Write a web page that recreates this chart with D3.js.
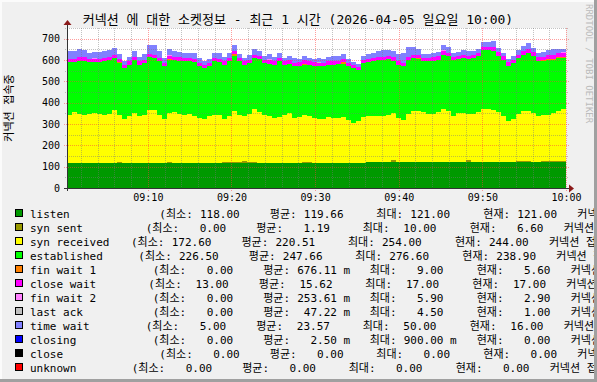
<!DOCTYPE html>
<html><head><meta charset="utf-8">
<script src="https://cdn.jsdelivr.net/npm/d3@7"></script>
<style>
html,body{margin:0;padding:0;background:#F0F0F0;}
svg{display:block;}
text{font-family:"DejaVu Sans Mono","Noto Sans CJK KR",monospace;fill:#000;}
</style></head><body><svg id="chart" width="597" height="382"></svg>
<script>
// ---------- DATA ----------
const title = "커넥션 에 대한 소켓정보 - 최근 1 시간 (2026-04-05 일요일 10:00)";
const yAxisTitle = "커넥션 접속중";
const watermark = "RRDTOOL / TOBI OETIKER";
const timeStart = new Date(2026, 3, 5, 9, 0, 20);
const timeEnd = new Date(2026, 3, 5, 10, 0, 0);
const yTicks = [0, 100, 200, 300, 400, 500, 600, 700];

const seriesNames = ["listen","syn sent","syn received","established","fin wait 1","close wait",
  "fin wait 2","last ack","time wait","closing","close","unknown"];

const listen = [
119,119,119,119,119,119,119,119,119,119, 119,119,119,119,119,119,119,119,119,119,
118,118,118,118,118,119,119,119,119,119, 119,119,119,119,119,119,119,119,119,119,
119,119,119,119,119,119,119,119,119,119, 119,119,119,119,119,119,119,119,119,119,
121,121,121,121,121,121,121,121,121,121, 121,121,121,121,121,121,121,121,121,121,
121,121,121,121,121,121,121,121,121,121, 121,121,121,121,121,121,121,121,121,121];
const synSent = [
0,0,0,0,0,0,0,0,0,0, 5,0,0,0,0,0,0,0,0,0,
5,0,0,0,0,0,0,0,0,0, 0,3,5,2,4,6,3,2,0,0,
0,0,0,0,0,0,0,5,3,0, 0,0,0,0,0,0,0,0,0,0,
2,0,0,0,0,8,0,0,0,0, 0,0,0,0,0,3,0,0,0,0,
10,0,0,0,0,0,0,0,0,0, 6,5,4,3,0,6,6.6,6.6,6.6,6.6];
const synReceived = [
225,235,229,225,229,232,229,223,229,245, 220,204,217,232,217,225,248,245,225,204,
228,236,230,226,230,220,209,204,217,225, 225,201,215,241,221,211,226,249,235,223,
217,209,214,225,232,209,214,220,217,209, 204,204,214,209,209,214,201,186,194,214,
213,215,218,218,223,222,207,196,227,238, 238,233,227,227,233,246,238,218,230,230,
217,227,233,249,249,246,233,218,192,202, 221,233,234,227,218,217,216.4,223.4,231.4,244];
const established = [
246,236,249,253,241,238,242,252,253,245, 242,239,242,250,242,242,247,245,250,247,
248,247,249,250,246,250,245,239,234,250, 246,255,255,255,250,242,238,239,251,244,
247,250,261,234,232,242,240,234,239,245, 247,247,245,250,253,250,253,257,241,253,
253,258,260,262,261,246,250,253,251,250, 246,240,246,249,247,255,258,260,254,258,
257,261,263,275,276.6,273,266,262,260,263, 261,266,274,269,258,250,257,250,250,238.9];
const finWait1 = [
0,0,0,0,0,0,0,0,0,0, 3,0,0,0,0,0,0,0,0,0,
4,0,0,0,0,0,0,0,0,0, 0,0,0,9,0,0,0,0,0,0,
0,0,0,0,0,0,0,5,0,0, 0,0,0,0,0,6,0,0,0,0,
0,0,0,0,0,0,0,0,0,0, 5,0,0,0,0,0,0,0,0,0,
0,0,0,0,0,4,0,0,0,0, 0,0,0,0,0,6,6,5.6,5.6,5.6];
const closeWait = [
15,16,16,15,15,16,16,15,14,15, 16,16,15,15,16,16,15,15,16,16,
16,15,15,16,16,15,14,13,14,15, 16,16,15,16,16,15,15,16,16,15,
15,16,16,15,15,16,16,15,15,16, 16,16,15,15,16,16,15,14,14,15,
16,16,15,15,16,16,16,15,16,16, 15,15,16,16,16,16,16,15,16,16,
16,16,16,16,16,17,17,16,16,16, 16,17,17,17,16,16,17,17,17,17];
const finWait2 = [
0,0,0,0,0,4,0,0,0,0, 0,0,0,0,0,0,0,0,0,0,
3,0,0,0,0,0,0,0,0,0, 0,0,0,0,0,0,0,0,0,0,
5.9,0,0,0,0,0,0,0,0,0, 0,0,0,0,0,0,0,0,0,0,
2,0,0,0,0,0,0,0,0,0, 0,0,0,0,0,4,0,0,0,0,
0,0,0,0,0,0,0,0,3,0, 0,0,0,0,0,0,0,0,0,2.9];
const lastAck = [
0,0,0,0,0,0,0,0,0,0, 0,0,0,0,0,0,0,0,0,0,
0,0,0,0,0,0,0,0,0,0, 0,0,0,0,0,0,0,0,0,0,
0,0,0,0,0,0,0,0,0,0, 4.5,0,0,0,0,0,0,0,0,0,
0,0,0,0,0,0,0,0,0,0, 0,0,0,0,0,0,0,0,0,0,
0,0,0,0,0,0,0,0,0,0, 0,0,0,0,0,0,0,0,0,1];
const timeWait = [
35,38,40,36,30,28,30,32,30,33, 25,18,20,25,22,28,40,45,30,25,
30,28,25,22,25,28,22,18,20,25, 28,22,25,30,20,18,22,25,20,18,
22,20,25,18,20,22,18,20,15,18, 20,18,22,25,20,22,18,15,12,20,
22,25,28,30,28,30,35,48,45,38, 25,20,18,20,22,25,30,20,18,20,
22,18,20,25,22,28,20,15,12,18, 22,25,28,20,18,22,25,28,22,16];
const closing = [
0,0,0,0,0,0,0,0,0,0, 0,0,0,0,0,0,0,0,0,0,
0,0,0,0,0,0,0,0,0,0, 0.9,0,0,0,0,0,0,0,0,0,
0,0,0,0,0,0,0,0,0,0, 0,0,0,0,0,0,0,0,0,0,
0,0,0,0,0,0,0,0,0,0, 0,0,0,0,0,0,0,0,0,0,
0,0,0,0,0,0,0,0,0,0, 0,0,0,0,0,0,0,0,0,0];
const close = [
0,0,0,0,0,0,0,0,0,0, 0,0,0,0,0,0,0,0,0,0,
0,0,0,0,0,0,0,0,0,0, 0,0,0,0,0,0,0,0,0,0,
0,0,0,0,0,0,0,0,0,0, 0,0,0,0,0,0,0,0,0,0,
0,0,0,0,0,0,0,0,0,0, 0,0,0,0,0,0,0,0,0,0,
0,0,0,0,0,0,0,0,0,0, 0,0,0,0,0,0,0,0,0,0];
const unknown = [
0,0,0,0,0,0,0,0,0,0, 0,0,0,0,0,0,0,0,0,0,
0,0,0,0,0,0,0,0,0,0, 0,0,0,0,0,0,0,0,0,0,
0,0,0,0,0,0,0,0,0,0, 0,0,0,0,0,0,0,0,0,0,
0,0,0,0,0,0,0,0,0,0, 0,0,0,0,0,0,0,0,0,0,
0,0,0,0,0,0,0,0,0,0, 0,0,0,0,0,0,0,0,0,0];

const legendMin = [118.00, 0, 172.60, 226.50, 0, 13.00, 0, 0, 5.00, 0, 0, 0];
const legendAvg = [119.66, 1.19, 220.51, 247.66, 0.67611, 15.62, 0.25361, 0.04722, 23.57, 0.0025, 0, 0];
const legendMax = [121.00, 10.00, 254.00, 276.60, 9.00, 17.00, 5.90, 4.50, 50.00, 0.9, 0, 0];
const legendCur = [121.00, 6.60, 244.00, 238.90, 5.60, 17.00, 2.90, 1.00, 16.00, 0, 0, 0];
const legendWords = ["(최소:", "평균:", "최대:", "현재:"];
const legendComment = "커넥션 접속 수";

// ---------- STYLE / LAYOUT ----------
const colors = ["#009900","#999900","#FFFF00","#00FF00","#FF8000","#FF00FF",
  "#FF80FF","#C0C0C0","#8080FF","#0000FF","#000000","#FF0000"];
const legendStart = [159.3,145.7,131,138.3,152.7,148.3,152.7,152.7,145.7,152.7,159.3,131.7];
const legendItemOffsets = [0, 110.5, 217, 324];
const legendCommentOffset = 418;

const W = 597, H = 382;
const plot = {left: 67, right: 566, top: 28, bottom: 188};

const seriesData = [listen, synSent, synReceived, established, finWait1, closeWait,
  finWait2, lastAck, timeWait, closing, close, unknown];
const N = listen.length;

const svg = d3.select("#chart");

// background
svg.append("rect").attr("width", W).attr("height", H).attr("fill", "#F0F0F0");
svg.append("rect").attr("x", plot.left).attr("y", plot.top)
  .attr("width", plot.right - plot.left).attr("height", plot.bottom - plot.top).attr("fill", "#FFFFFF");

// scales
const xIdx = d3.scaleLinear().domain([0, N]).range([plot.left, plot.right]);
const xTime = d3.scaleTime().domain([timeStart, timeEnd]).range([plot.left, plot.right]);
const y = d3.scaleLinear().domain([0, 750]).range([plot.bottom, plot.top]);

// stacked data
const rows = d3.range(N + 1).map(i => {
  const j = Math.min(i, N - 1);
  const o = {};
  seriesNames.forEach((k, s) => o[k] = seriesData[s][j]);
  return o;
});
const stacked = d3.stack().keys(seriesNames)(rows);
const area = d3.area()
  .x((d, i) => xIdx(i))
  .y0(d => y(d[0]))
  .y1(d => y(d[1]))
  .curve(d3.curveStepAfter);
svg.append("g").selectAll("path").data(stacked).join("path")
  .attr("d", area)
  .attr("fill", (d, i) => colors[i])
  .attr("shape-rendering", "crispEdges");

// grid
const grid = svg.append("g").attr("shape-rendering", "crispEdges");
const minorY = d3.range(50, 751, 100);
const majorY = d3.range(100, 701, 100);
grid.selectAll(".hmin").data(minorY).join("line")
  .attr("x1", plot.left - 2).attr("x2", plot.right + 2)
  .attr("y1", d => Math.round(y(d)) + 0.5).attr("y2", d => Math.round(y(d)) + 0.5)
  .attr("stroke", "rgba(120,120,120,0.45)").attr("stroke-dasharray", "1,1");
grid.selectAll(".hmaj").data(majorY).join("line")
  .attr("x1", plot.left - 3).attr("x2", plot.right + 3)
  .attr("y1", d => Math.round(y(d)) + 0.5).attr("y2", d => Math.round(y(d)) + 0.5)
  .attr("stroke", "rgba(255,60,60,0.5)").attr("stroke-dasharray", "1,1");
const minorX = d3.timeMinute.every(2).range(timeStart, new Date(+timeEnd + 1))
  .filter(t => t.getMinutes() % 10 !== 0);
const majorX = d3.timeMinute.every(10).range(timeStart, new Date(+timeEnd + 1));
grid.selectAll(".vmin").data(minorX).join("line")
  .attr("x1", d => Math.round(xTime(d)) + 0.5).attr("x2", d => Math.round(xTime(d)) + 0.5)
  .attr("y1", plot.top).attr("y2", plot.bottom + 2)
  .attr("stroke", "rgba(120,120,120,0.45)").attr("stroke-dasharray", "1,1");
grid.selectAll(".vmaj").data(majorX).join("line")
  .attr("x1", d => Math.round(xTime(d)) + 0.5).attr("x2", d => Math.round(xTime(d)) + 0.5)
  .attr("y1", plot.top).attr("y2", plot.bottom + 3)
  .attr("stroke", "rgba(255,60,60,0.5)").attr("stroke-dasharray", "1,1");

// axes
const xAxis = d3.axisBottom(xTime).tickValues(majorX).tickFormat(d3.timeFormat("%H:%M"))
  .tickSize(0).tickPadding(6);
const gx = svg.append("g").attr("transform", `translate(0,${plot.bottom})`).call(xAxis);
gx.select(".domain").remove();
gx.selectAll("text").attr("font-size", 10).attr("font-family", "DejaVu Sans Mono");

const yAxis = d3.axisLeft(y).tickValues(yTicks).tickSize(0).tickPadding(7);
const gy = svg.append("g").attr("transform", `translate(${plot.left},0)`).call(yAxis);
gy.select(".domain").remove();
gy.selectAll("text").attr("font-size", 10).attr("font-family", "DejaVu Sans Mono");

// axis lines + arrows
svg.append("line").attr("x1", plot.left - 3).attr("x2", plot.right + 4)
  .attr("y1", plot.bottom + 0.5).attr("y2", plot.bottom + 0.5)
  .attr("stroke", "#333").attr("shape-rendering", "crispEdges");
svg.append("line").attr("x1", plot.left + 0.5).attr("x2", plot.left + 0.5)
  .attr("y1", plot.bottom + 3).attr("y2", plot.top - 3)
  .attr("stroke", "#333").attr("shape-rendering", "crispEdges");
svg.append("path").attr("d", `M${plot.right + 3},${plot.bottom - 3.5} L${plot.right + 8},${plot.bottom + 0.5} L${plot.right + 3},${plot.bottom + 4.5} Z`)
  .attr("fill", "#8B1A1A");
svg.append("path").attr("d", `M${plot.left - 3.5},${plot.top - 3} L${plot.left + 0.5},${plot.top - 8} L${plot.left + 4.5},${plot.top - 3} Z`)
  .attr("fill", "#8B1A1A");

// title
svg.append("text").attr("x", 298).attr("y", 24).attr("text-anchor", "middle")
  .attr("font-size", 13).style("white-space", "pre").text(title);

// y-axis title
svg.append("text").attr("transform", `translate(13,${(plot.top + plot.bottom) / 2}) rotate(-90)`)
  .attr("text-anchor", "middle").attr("font-size", 11).text(yAxisTitle);

// watermark
svg.append("text").attr("transform", `translate(586,4) rotate(90)`)
  .attr("font-size", 9).style("fill", "#BBBBBB").text(watermark);

// legend
const fmt = v => {
  if (v !== 0 && Math.abs(v) < 1) return (v * 1000).toFixed(2).padStart(6) + " m";
  return v.toFixed(2).padStart(6);
};
const leg = svg.append("g");
seriesNames.forEach((name, i) => {
  const cy = 214 + 14 * i;
  const g = leg.append("g");
  g.append("rect").attr("x", 15.5).attr("y", cy - 4.5).attr("width", 7).attr("height", 7)
    .attr("fill", colors[i]).attr("stroke", "#000").attr("shape-rendering", "crispEdges");
  const base = cy + 4;
  g.append("text").attr("x", 30).attr("y", base).attr("font-size", 11).text(name);
  const S = legendStart[i];
  const vals = [legendMin[i], legendAvg[i], legendMax[i], legendCur[i]];
  vals.forEach((v, k) => {
    const P = S + legendItemOffsets[k];
    g.append("text").attr("x", P).attr("y", base).attr("font-size", 11).text(legendWords[k]);
    g.append("text").attr("x", P + (k === 0 ? 40.7 : 34)).attr("y", base).attr("font-size", 11)
      .style("white-space", "pre").text(fmt(v));
  });
  g.append("text").attr("x", S + legendCommentOffset).attr("y", base).attr("font-size", 11).text(legendComment);
});

// frame
svg.append("rect").attr("x", 0).attr("y", 0).attr("width", W).attr("height", 2).attr("fill", "#FBFBFB");
svg.append("rect").attr("x", 0).attr("y", 0).attr("width", 2).attr("height", H).attr("fill", "#FBFBFB");
svg.append("rect").attr("x", W - 3).attr("y", 0).attr("width", 3).attr("height", H).attr("fill", "#A0A0A0");
svg.append("rect").attr("x", 0).attr("y", H - 3).attr("width", W).attr("height", 3).attr("fill", "#A0A0A0");
</script></body></html>
